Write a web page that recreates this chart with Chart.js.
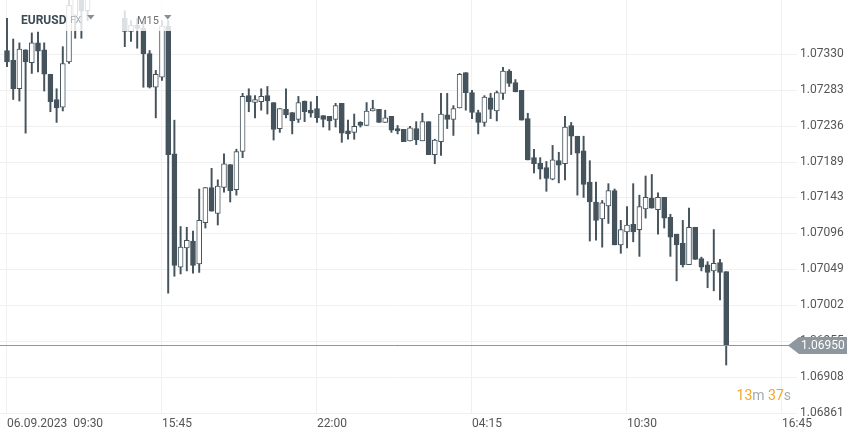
<!DOCTYPE html>
<html lang="en">
<head>
  <meta charset="UTF-8" />
  <title>EURUSD M15</title>
  <script src="https://cdn.jsdelivr.net/npm/chart.js"></script>
  <style>
    html, body { margin: 0; padding: 0; background: #fff; }
    .wrap { width: 859px; height: 439px; position: relative; }
  </style>
</head>
<body>
  <div class="wrap"><canvas id="chart"></canvas></div>

  <script>
    // 15 minute candles, 06.09.2023 09:30 onwards
    const opens = [
      1.07335,1.07322,1.07285,1.07336,1.07319,1.07345,1.07336,1.07304,1.07271,1.07261,
      1.07320,1.07381,1.07420,1.07387,1.07427,1.07446,1.07427,1.07407,1.07433,1.07377,
      1.07360,1.07368,1.07364,1.07331,1.07287,1.07300,1.07367,1.07200,1.07052,1.07077,
      1.07086,1.07056,1.07110,1.07156,1.07122,1.07156,1.07186,1.07153,1.07203,1.07276,
      1.07267,1.07268,1.07276,1.07267,1.07233,1.07258,1.07254,1.07245,1.07269,1.07257,
      1.07259,1.07250,1.07249,1.07245,1.07266,1.07230,1.07228,1.07241,1.07237,1.07256,
      1.07258,1.07241,1.07249,1.07233,1.07232,1.07217,1.07233,1.07217,1.07242,1.07199,
      1.07216,1.07251,1.07245,1.07260,1.07306,1.07280,1.07254,1.07241,1.07273,1.07256,
      1.07279,1.07308,1.07293,1.07283,1.07246,1.07195,1.07188,1.07182,1.07167,1.07191,
      1.07187,1.07237,1.07223,1.07204,1.07163,1.07137,1.07115,1.07132,1.07152,1.07081,
      1.07098,1.07108,1.07101,1.07128,1.07142,1.07127,1.07143,1.07117,1.07095,1.07083,
      1.07055,1.07104,1.07063,1.07055,1.07047,1.07058,1.07046
    ];
    const highs = [
      1.07377,1.07350,1.07345,1.07336,1.07358,1.07359,1.07345,1.07304,1.07285,1.07340,
      1.07407,1.07433,1.07427,1.07440,1.07459,1.07453,1.07433,1.07440,1.07440,1.07387,
      1.07374,1.07377,1.07372,1.07335,1.07309,1.07374,1.07374,1.07244,1.07105,1.07104,
      1.07099,1.07154,1.07156,1.07181,1.07166,1.07200,1.07186,1.07206,1.07279,1.07285,
      1.07276,1.07285,1.07288,1.07267,1.07259,1.07285,1.07254,1.07275,1.07269,1.07268,
      1.07275,1.07250,1.07249,1.07266,1.07266,1.07244,1.07252,1.07242,1.07267,1.07270,
      1.07258,1.07257,1.07249,1.07237,1.07232,1.07236,1.07242,1.07253,1.07242,1.07219,
      1.07279,1.07279,1.07263,1.07305,1.07306,1.07283,1.07257,1.07276,1.07279,1.07282,
      1.07313,1.07310,1.07297,1.07283,1.07253,1.07206,1.07195,1.07190,1.07211,1.07202,
      1.07249,1.07241,1.07223,1.07223,1.07191,1.07163,1.07139,1.07161,1.07154,1.07113,
      1.07131,1.07161,1.07146,1.07171,1.07173,1.07149,1.07143,1.07121,1.07095,1.07113,
      1.07129,1.07104,1.07065,1.07059,1.07101,1.07062,1.07046
    ];
    const lows = [
      1.07314,1.07271,1.07269,1.07227,1.07305,1.07307,1.07282,1.07255,1.07241,1.07256,
      1.07318,1.07351,1.07351,1.07374,1.07420,1.07414,1.07403,1.07403,1.07403,1.07340,
      1.07347,1.07338,1.07287,1.07286,1.07247,1.07296,1.07018,1.07040,1.07043,1.07047,
      1.07044,1.07045,1.07103,1.07125,1.07107,1.07150,1.07137,1.07146,1.07195,1.07255,
      1.07247,1.07257,1.07252,1.07218,1.07228,1.07247,1.07226,1.07241,1.07242,1.07248,
      1.07241,1.07235,1.07231,1.07235,1.07215,1.07219,1.07219,1.07235,1.07237,1.07256,
      1.07241,1.07241,1.07228,1.07226,1.07216,1.07217,1.07212,1.07217,1.07199,1.07187,
      1.07198,1.07233,1.07224,1.07260,1.07257,1.07246,1.07226,1.07236,1.07246,1.07243,
      1.07271,1.07288,1.07281,1.07244,1.07192,1.07175,1.07167,1.07151,1.07166,1.07162,
      1.07166,1.07199,1.07146,1.07143,1.07086,1.07087,1.07078,1.07109,1.07081,1.07070,
      1.07077,1.07085,1.07066,1.07116,1.07129,1.07095,1.07103,1.07066,1.07034,1.07052,
      1.07055,1.07062,1.07047,1.07025,1.07021,1.07009,1.06924
    ];
    const closes = [
      1.07320,1.07285,1.07337,1.07320,1.07345,1.07334,1.07304,1.07268,1.07260,1.07318,
      1.07394,1.07420,1.07387,1.07427,1.07446,1.07427,1.07407,1.07433,1.07407,1.07360,
      1.07368,1.07364,1.07331,1.07287,1.07304,1.07367,1.07199,1.07054,1.07078,1.07087,
      1.07054,1.07113,1.07156,1.07125,1.07158,1.07187,1.07152,1.07203,1.07275,1.07268,
      1.07271,1.07275,1.07269,1.07232,1.07259,1.07251,1.07243,1.07267,1.07255,1.07253,
      1.07247,1.07245,1.07243,1.07263,1.07227,1.07226,1.07236,1.07237,1.07256,1.07259,
      1.07241,1.07247,1.07231,1.07230,1.07216,1.07234,1.07218,1.07242,1.07199,1.07218,
      1.07252,1.07245,1.07259,1.07304,1.07280,1.07254,1.07241,1.07274,1.07258,1.07280,
      1.07308,1.07292,1.07281,1.07244,1.07192,1.07187,1.07180,1.07168,1.07192,1.07185,
      1.07235,1.07223,1.07201,1.07160,1.07137,1.07113,1.07136,1.07152,1.07081,1.07101,
      1.07107,1.07098,1.07131,1.07143,1.07129,1.07143,1.07116,1.07091,1.07081,1.07055,
      1.07104,1.07062,1.07052,1.07045,1.07057,1.07045,1.06950
    ];

    const xTickIdx = [0, 25, 50, 75, 100, 125];
    const xTickLabels = ['06.09.2023  09:30', '15:45', '22:00', '04:15', '10:30', '16:45'];
    const yTicks = [1.07330, 1.07283, 1.07236, 1.07189, 1.07143, 1.07096, 1.07049, 1.07002, 1.06955, 1.06908, 1.06861];

    const symbol = 'EURUSD';
    const market = 'FX';
    const period = 'M15';
    const timerParts = [['13', true], ['m ', false], ['37', true], ['s', false]];

    const dark = '#45535d';
    const gridColor = '#f0f0f0';
    const labelColor = '#555555';
    const font = { family: 'Roboto', size: 12 };

    function triangle(ctx, x, y, w, h) {
      ctx.beginPath();
      ctx.moveTo(x, y);
      ctx.lineTo(x + w, y);
      ctx.lineTo(x + w / 2, y + h);
      ctx.closePath();
      ctx.fill();
    }

    const decor = {
      id: 'decor',
      afterDatasetsDraw(chart) {
        const { ctx, chartArea: a, scales: { y } } = chart;
        const last = closes[closes.length - 1];
        const py = Math.round(y.getPixelForValue(last)) + 0.5;
        ctx.save();

        // last price line and marker
        ctx.strokeStyle = '#8d979d';
        ctx.lineWidth = 1;
        ctx.beginPath();
        ctx.moveTo(a.left, py);
        ctx.lineTo(a.right - 8, py);
        ctx.stroke();

        ctx.fillStyle = '#8d979d';
        ctx.beginPath();
        ctx.moveTo(a.right - 9, py);
        ctx.lineTo(a.right + 2, py - 8.5);
        ctx.lineTo(a.right + 50, py - 8.5);
        ctx.lineTo(a.right + 50, py + 8.5);
        ctx.lineTo(a.right + 2, py + 8.5);
        ctx.closePath();
        ctx.fill();
        ctx.fillStyle = '#ffffff';
        ctx.font = '12px Roboto';
        ctx.textAlign = 'left';
        ctx.textBaseline = 'middle';
        ctx.fillText(last.toFixed(5), a.right + 4, py + 0.5);

        // legend boxes over the plot
        ctx.fillStyle = 'rgba(255,255,255,0.82)';
        ctx.fillRect(10, 0, 87, 31);
        ctx.fillRect(119, 0, 57, 31);

        ctx.textBaseline = 'alphabetic';
        ctx.fillStyle = '#3d4b55';
        ctx.font = 'bold 12px Roboto';
        ctx.fillText(symbol, 21, 24);
        ctx.fillStyle = '#a0a6aa';
        ctx.font = '9px Roboto';
        ctx.fillText(market, 70.5, 23);
        ctx.fillStyle = '#888f94';
        triangle(ctx, 87, 15, 7.5, 4.5);
        ctx.fillStyle = '#707070';
        ctx.font = '11px Roboto';
        ctx.fillText(period, 137, 23.5);
        ctx.fillStyle = '#888f94';
        triangle(ctx, 164, 15, 7.5, 4.5);

        // candle countdown
        ctx.font = '14px Roboto';
        let total = 0;
        timerParts.forEach(p => { total += ctx.measureText(p[0]).width; });
        let tx = a.right - 6 - total;
        timerParts.forEach(p => {
          ctx.fillStyle = p[1] ? '#f5a623' : '#a3abb0';
          ctx.fillText(p[0], tx, 400);
          tx += ctx.measureText(p[0]).width;
        });

        ctx.restore();
      }
    };

    const bodies = opens.map((o, i) => ({ x: i, y: [o, closes[i]] }));
    const wicks = lows.map((l, i) => ({ x: i, y: [l, highs[i]] }));

    new Chart(document.getElementById('chart').getContext('2d'), {
      type: 'bar',
      data: {
        datasets: [
          {
            label: 'body',
            data: bodies,
            grouped: false,
            barThickness: 5,
            minBarLength: 1,
            borderWidth: 1,
            borderSkipped: false,
            borderColor: dark,
            backgroundColor: c => closes[c.dataIndex] >= opens[c.dataIndex] ? '#ffffff' : dark,
            clip: 0
          },
          {
            label: 'wick',
            data: wicks,
            grouped: false,
            barThickness: 1.3,
            borderWidth: 0,
            backgroundColor: dark,
            clip: 0
          }
        ]
      },
      options: {
        responsive: true,
        maintainAspectRatio: false,
        devicePixelRatio: 1,
        animation: false,
        layout: { padding: 0 },
        plugins: {
          legend: { display: false },
          tooltip: { enabled: false }
        },
        scales: {
          x: {
            type: 'linear',
            offset: false,
            min: -7 / 6.2,
            max: 790 / 6.2,
            afterBuildTicks: s => { s.ticks = xTickIdx.map(v => ({ value: v })); },
            afterFit: s => { s.height = 25; s.paddingLeft = 0; s.paddingRight = 0; },
            grid: { color: gridColor, drawTicks: false, offset: false },
            border: { display: false },
            ticks: {
              autoSkip: false,
              maxRotation: 0,
              align: 'start',
              padding: 3,
              color: labelColor,
              font: font,
              callback: v => xTickLabels[xTickIdx.indexOf(v)]
            }
          },
          y: {
            position: 'right',
            min: 1.06860,
            max: 1.07401,
            afterBuildTicks: s => { s.ticks = yTicks.map(v => ({ value: v })); },
            afterFit: s => { s.width = 62; s.paddingTop = 0; s.paddingBottom = 0; },
            grid: { color: gridColor, drawTicks: false },
            border: { display: false },
            ticks: {
              padding: 3,
              color: labelColor,
              font: font,
              callback: v => v.toFixed(5)
            }
          }
        }
      },
      plugins: [decor]
    });
  </script>
</body>
</html>
